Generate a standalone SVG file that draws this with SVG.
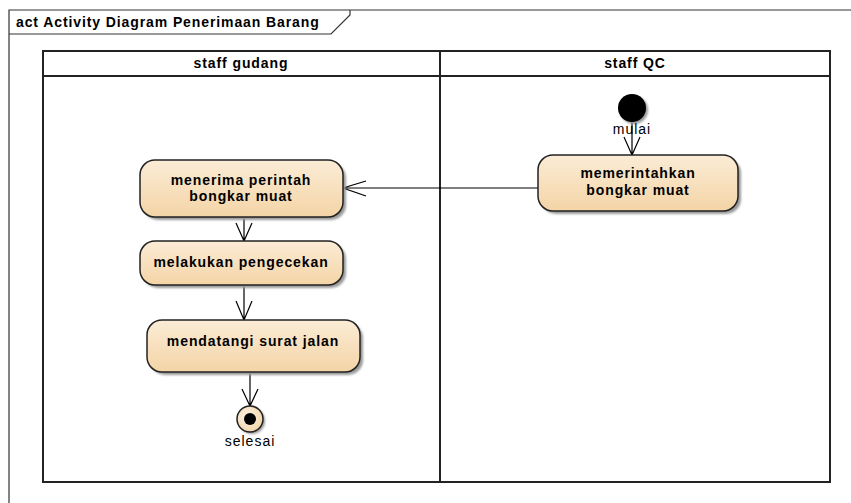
<svg xmlns="http://www.w3.org/2000/svg" width="851" height="503" viewBox="0 0 851 503">
  <defs>
    <linearGradient id="actFill" x1="0" y1="0" x2="0" y2="1">
      <stop offset="0" stop-color="#fbecd6"/>
      <stop offset="1" stop-color="#f4d4a6"/>
    </linearGradient>
    <radialGradient id="finalFill" cx="0.4" cy="0.4" r="0.7">
      <stop offset="0" stop-color="#fdf3e4"/>
      <stop offset="1" stop-color="#f1d2a4"/>
    </radialGradient>
    <filter id="soft" x="-10%" y="-10%" width="130%" height="130%">
      <feGaussianBlur stdDeviation="1"/>
    </filter>
  </defs>
  <style>
    .frame { fill: none; stroke: #333; stroke-width: 1.2; }
    .lane { fill: none; stroke: #222; stroke-width: 2; }
    .act { fill: url(#actFill); stroke: #222; stroke-width: 1.5; }
    .shadow { fill: #9a9a9a; filter: url(#soft); }
    .lbl { font-family: "Liberation Sans", Arial, sans-serif; font-size: 14px; font-weight: bold; letter-spacing: 0.9px; fill: #000; text-anchor: middle; }
    .title { font-family: "Liberation Sans", Arial, sans-serif; font-size: 14px; font-weight: bold; letter-spacing: 0.9px; fill: #000; }
    .small { font-family: "Liberation Sans", Arial, sans-serif; font-size: 14px; letter-spacing: 1px; fill: #000; text-anchor: middle; }
    .edge { fill: none; stroke: #000; stroke-width: 1.2; }
  </style>

  <rect width="851" height="503" fill="#fff"/>

  <!-- diagram frame and name tab -->
  <g id="frame">
    <path class="frame" d="M9,503 V10 H851"/>
    <path class="frame" d="M9,34 H331 L350,15 V10"/>
    <text class="title" x="16" y="27">act Activity Diagram Penerimaan Barang</text>
  </g>

  <!-- swimlanes -->
  <g id="lanes">
    <rect class="lane" x="43" y="51" width="787" height="431"/>
    <line class="lane" x1="43" y1="76" x2="830" y2="76"/>
    <line class="lane" x1="440" y1="51" x2="440" y2="482"/>
    <text class="lbl" x="241" y="68">staff gudang</text>
    <text class="lbl" x="635" y="68">staff QC</text>
  </g>

  <!-- connectors -->
  <g id="connectors">
    <path class="edge" d="M632,122 V155 M624,137 L632,155 L640,137"/>
    <path class="edge" d="M538,188 H343 M366,181 L343,188 L366,196"/>
    <path class="edge" d="M244,217 V241 M236,223 L244,241 L252,223"/>
    <path class="edge" d="M244,285 V320 M236,301 L244,320 L252,301"/>
    <path class="edge" d="M250,372 V406 M242,389 L250,406 L258,389"/>
  </g>

  <g id="start">
    <circle cx="634" cy="110" r="14" fill="#999" filter="url(#soft)"/>
    <circle cx="632" cy="108" r="14" fill="#000"/>
    <text class="small" x="632" y="134">mulai</text>
  </g>

  <g id="memerintahkan">
    <rect class="shadow" x="541" y="158" width="200" height="56" rx="15"/>
    <rect class="act" x="538" y="155" width="200" height="56" rx="15"/>
    <text class="lbl" x="638" y="178">memerintahkan</text>
    <text class="lbl" x="638" y="195">bongkar muat</text>
  </g>

  <g id="menerima">
    <rect class="shadow" x="143" y="163" width="203" height="57" rx="15"/>
    <rect class="act" x="140" y="160" width="203" height="57" rx="15"/>
    <text class="lbl" x="241" y="185">menerima perintah</text>
    <text class="lbl" x="241" y="201">bongkar muat</text>
  </g>

  <g id="melakukan">
    <rect class="shadow" x="143" y="244" width="203" height="44" rx="15"/>
    <rect class="act" x="140" y="241" width="203" height="44" rx="15"/>
    <text class="lbl" x="241" y="267">melakukan pengecekan</text>
  </g>

  <g id="mendatangi">
    <rect class="shadow" x="150" y="323" width="213" height="52" rx="15"/>
    <rect class="act" x="147" y="320" width="213" height="52" rx="15"/>
    <text class="lbl" x="253" y="346">mendatangi surat jalan</text>
  </g>

  <g id="selesai">
    <circle cx="252" cy="421" r="13" fill="#999" filter="url(#soft)"/>
    <circle cx="250" cy="419" r="13" fill="url(#finalFill)" stroke="#222" stroke-width="1.5"/>
    <circle cx="250" cy="419" r="6" fill="#000"/>
    <text class="small" x="250" y="446">selesai</text>
  </g>
</svg>
